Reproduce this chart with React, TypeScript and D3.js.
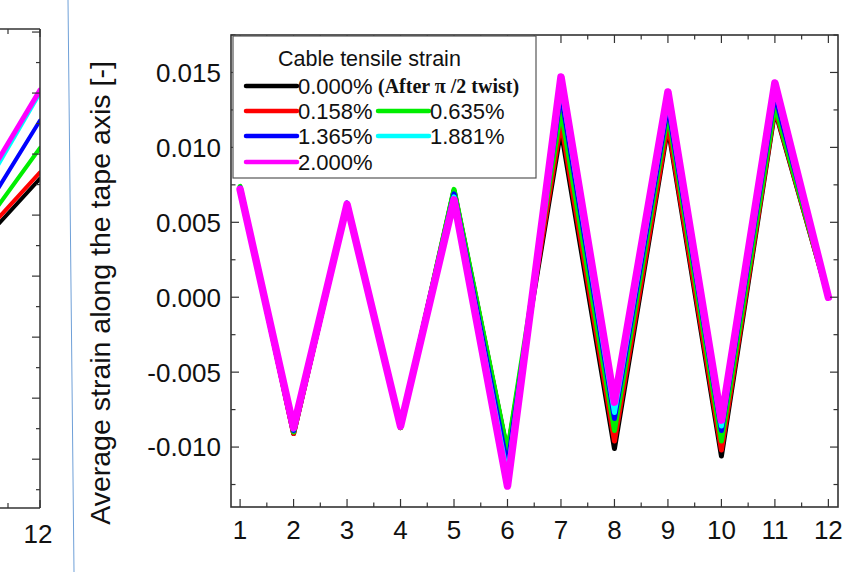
import React from "react";
import * as d3 from "d3";

// Tape positions along the x axis
const positions = [1, 2, 3, 4, 5, 6, 7, 8, 9, 10, 11, 12];

// Cable tensile strain cases
const seriesLabels = ["0.000%", "0.158%", "0.635%", "1.365%", "1.881%", "2.000%"];
const seriesColors = ["#000000", "#ff0000", "#00ee00", "#0000ff", "#00ffff", "#ff00ff"];

// Average strain along the tape axis, one array per case
const strain000 = [0.0073, -0.0091, 0.0062, -0.0087, 0.0071, -0.0104, 0.0112, -0.0101, 0.0114, -0.0106, 0.0125, 0.0];
const strain158 = [0.0073, -0.0091, 0.0062, -0.0087, 0.0071, -0.0104, 0.0117, -0.0096, 0.0116, -0.0102, 0.0126, 0.0];
const strain635 = [0.0074, -0.009, 0.0062, -0.0087, 0.0072, -0.0103, 0.0125, -0.0089, 0.0123, -0.0096, 0.0128, 0.0];
const strain1365 = [0.0073, -0.0089, 0.0063, -0.0086, 0.0069, -0.0113, 0.0136, -0.0081, 0.0128, -0.0089, 0.0135, 0.0];
const strain1881 = [0.0072, -0.0088, 0.0062, -0.0086, 0.0067, -0.0119, 0.0142, -0.0077, 0.0133, -0.0086, 0.014, 0.0];
const strain2000 = [0.0072, -0.0087, 0.0062, -0.0086, 0.0065, -0.0126, 0.0147, -0.007, 0.0137, -0.0082, 0.0143, 0.0];
const seriesValues = [strain000, strain158, strain635, strain1365, strain1881, strain2000];

// Neighbouring panel: last segment (positions 11 to 12) of each case
const sidePositions = [11, 12];
const sideValues = [
  [0.0049, 0.0072],
  [0.0051, 0.0074],
  [0.0053, 0.0082],
  [0.0057, 0.0091],
  [0.0064, 0.01],
  [0.0066, 0.0101],
];

const yTickValues = [-0.01, -0.005, 0.0, 0.005, 0.01, 0.015];
const yTickLabels = ["-0.010", "-0.005", "0.000", "0.005", "0.010", "0.015"];

const SANS = "'Liberation Sans', Arial, Helvetica, sans-serif";
const SERIF = "'Liberation Serif', 'Times New Roman', serif";
const AXIS = "#333";

export default function App() {
  const W = 861;
  const H = 572;

  // Main panel scales
  const x = d3.scaleLinear().domain([0.83, 12.18]).range([231, 838]);
  const y = d3.scaleLinear().domain([-0.014, 0.0175]).range([507, 35]);
  const [x0, x1] = x.range();
  const [y0, y1] = [y.range()[1], y.range()[0]];

  const line = d3
    .line<number>()
    .x((_, i) => x(positions[i]))
    .y((v) => y(v));

  const xMinor = d3.range(1, 12.01, 0.5);
  const yMinor = d3.range(-0.0125, 0.0176, 0.0025);

  // Side panel scales
  const sx = d3.scaleLinear().domain([11, 12]).range([-24, 40]);
  const sy = d3.scaleLinear().domain([-0.0036, 0.0121]).range([508, 29]);
  const sideLine = d3
    .line<number>()
    .x((_, i) => sx(sidePositions[i]))
    .y((v) => sy(v));
  const sideTicks = d3.range(-0.003, 0.0121, 0.001);

  const legendRows = [[0], [1, 2], [3, 4], [5]];
  const legendRowY = [86, 111, 136, 162];
  const legendColX = [246, 378];

  return (
    <svg width={W} height={H} style={{ position: "absolute", left: 0, top: 0, background: "#fff" }}>
      <rect x={0} y={0} width={W} height={H} fill="#fff" />

      {/* side panel */}
      <g>
        <defs>
          <clipPath id="sideClip">
            <rect x={0} y={29} width={40} height={479} />
          </clipPath>
        </defs>
        <g clipPath="url(#sideClip)">
          {sideValues.map((vals, k) => (
            <path
              key={k}
              d={sideLine(vals) || ""}
              fill="none"
              stroke={seriesColors[k]}
              strokeWidth={k === 5 ? 5 : 4}
              strokeLinecap="round"
            />
          ))}
        </g>
        <line x1={0} x2={40} y1={29} y2={29} stroke={AXIS} strokeWidth={1.5} />
        <line x1={0} x2={40} y1={508} y2={508} stroke={AXIS} strokeWidth={1.5} />
        <line x1={40} x2={40} y1={29} y2={508} stroke={AXIS} strokeWidth={1.5} />
        {sideTicks.map((t, i) => (
          <line
            key={i}
            x1={40}
            x2={40 - (i % 2 === 0 ? 4 : 8)}
            y1={sy(t)}
            y2={sy(t)}
            stroke={AXIS}
            strokeWidth={1.2}
          />
        ))}
        {[11.5, 12].map((t) => (
          <g key={t}>
            <line x1={sx(t)} x2={sx(t)} y1={508} y2={508 - (t === 12 ? 8 : 5)} stroke={AXIS} strokeWidth={1.2} />
            <line x1={sx(t)} x2={sx(t)} y1={29} y2={29 + (t === 12 ? 8 : 5)} stroke={AXIS} strokeWidth={1.2} />
          </g>
        ))}
        <text x={sx(12) - 2} y={543} fontFamily={SANS} fontSize={26} textAnchor="middle" fill="#111">
          12
        </text>
      </g>

      {/* separator */}
      <line x1={68} y1={0} x2={74} y2={572} stroke="#6fa0d8" strokeWidth={1} />

      {/* y axis title */}
      <text
        transform="translate(110,293) rotate(-90)"
        fontFamily={SANS}
        fontSize={28.5}
        textAnchor="middle"
        fill="#111"
      >
        Average strain along the tape axis [-]
      </text>

      {/* main panel data */}
      <defs>
        <clipPath id="mainClip">
          <rect x={x0} y={y0} width={x1 - x0} height={y1 - y0} />
        </clipPath>
      </defs>
      <g clipPath="url(#mainClip)">
        {seriesValues.map((vals, k) => (
          <path
            key={k}
            d={line(vals) || ""}
            fill="none"
            stroke={seriesColors[k]}
            strokeWidth={k === 5 ? 7.5 : 5}
            strokeLinejoin="round"
            strokeLinecap="round"
          />
        ))}
      </g>

      {/* frame and ticks */}
      <rect x={x0} y={y0} width={x1 - x0} height={y1 - y0} fill="none" stroke={AXIS} strokeWidth={1.6} />
      {xMinor.map((t, i) => {
        const len = Number.isInteger(t) ? 8 : 4.5;
        return (
          <g key={i}>
            <line x1={x(t)} x2={x(t)} y1={y1} y2={y1 - len} stroke={AXIS} strokeWidth={1.2} />
            <line x1={x(t)} x2={x(t)} y1={y0} y2={y0 + len} stroke={AXIS} strokeWidth={1.2} />
          </g>
        );
      })}
      {yMinor.map((t, i) => {
        const major = Math.abs(Math.round(t / 0.005) * 0.005 - t) < 1e-6;
        const len = major ? 8 : 4.5;
        return (
          <g key={i}>
            <line x1={x0} x2={x0 + len} y1={y(t)} y2={y(t)} stroke={AXIS} strokeWidth={1.2} />
            <line x1={x1} x2={x1 - len} y1={y(t)} y2={y(t)} stroke={AXIS} strokeWidth={1.2} />
          </g>
        );
      })}
      {positions.map((p) => (
        <text key={p} x={x(p)} y={539} fontFamily={SANS} fontSize={26} textAnchor="middle" fill="#111">
          {p}
        </text>
      ))}
      {yTickValues.map((t, i) => (
        <text
          key={i}
          x={221}
          y={y(t)}
          dy="0.36em"
          fontFamily={SANS}
          fontSize={26}
          textAnchor="end"
          fill="#111"
        >
          {yTickLabels[i]}
        </text>
      ))}

      {/* legend */}
      <g>
        <rect x={233} y={36} width={303} height={142} fill="#fff" stroke="#555" strokeWidth={1.2} />
        <text x={278} y={58} dy="0.36em" fontFamily={SANS} fontSize={21.5} fill="#111">
          Cable tensile strain
        </text>
        {legendRows.map((row, r) =>
          row.map((k, c) => (
            <g key={k}>
              <line
                x1={legendColX[c]}
                x2={legendColX[c] + 51}
                y1={legendRowY[r]}
                y2={legendRowY[r]}
                stroke={seriesColors[k]}
                strokeWidth={4.5}
                strokeLinecap="round"
              />
              <text
                x={legendColX[c] + 52}
                y={legendRowY[r]}
                dy="0.36em"
                fontFamily={SANS}
                fontSize={22}
                fill="#111"
              >
                {seriesLabels[k]}
              </text>
              {k === 0 ? (
                <text
                  x={378}
                  y={legendRowY[r]}
                  dy="0.34em"
                  fontFamily={SERIF}
                  fontWeight="bold"
                  fontSize={20}
                  fill="#111"
                >
                  (After π /2 twist)
                </text>
              ) : null}
            </g>
          ))
        )}
      </g>
    </svg>
  );
}
